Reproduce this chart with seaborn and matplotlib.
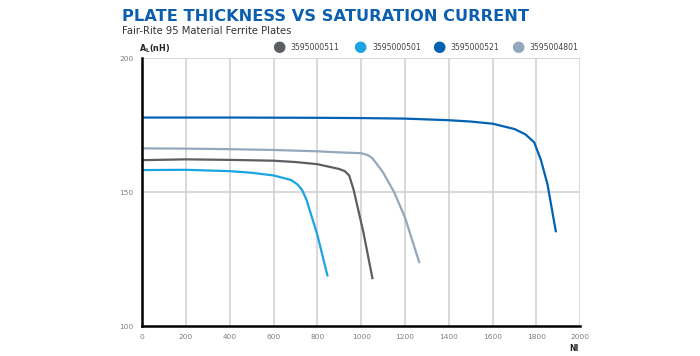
import numpy as np
import pandas as pd
import matplotlib
matplotlib.use("Agg")
import matplotlib.pyplot as plt
import seaborn as sns

series_names = ["3595000511", "3595000501", "3595000521", "3595004801"]
series_colors = ["#5b5e62", "#1ba3e3", "#0062b1", "#93a8bd"]

ni_511 = [0, 200, 400, 600, 700, 800, 900, 925, 945, 965, 1010, 1052]
al_511 = [161.9, 162.2, 162.0, 161.7, 161.2, 160.4, 158.6, 157.8, 156.2, 151.0, 135.0, 117.5]

ni_501 = [0, 200, 400, 500, 600, 680, 710, 730, 750, 800, 847]
al_501 = [158.2, 158.3, 157.8, 157.2, 156.2, 154.5, 152.8, 150.8, 147.2, 134.0, 118.5]

ni_521 = [0, 400, 800, 1000, 1200, 1400, 1500, 1600, 1700, 1750, 1790, 1820, 1850, 1889]
al_521 = [177.8, 177.8, 177.7, 177.6, 177.4, 176.8, 176.3, 175.5, 173.5, 171.5, 168.5, 162.0, 153.0, 135.0]

ni_4801 = [0, 200, 400, 600, 800, 900, 1000, 1030, 1050, 1070, 1100, 1150, 1200, 1266]
al_4801 = [166.3, 166.2, 166.0, 165.7, 165.2, 164.8, 164.5, 163.8, 162.7, 160.6, 157.3, 150.0, 140.5, 123.5]

x_ticks = [0, 200, 400, 600, 800, 1000, 1200, 1400, 1600, 1800, 2000]
y_ticks = [100, 150, 200]

title_text = "PLATE THICKNESS VS SATURATION CURRENT"
subtitle_text = "Fair-Rite 95 Material Ferrite Plates"

frames = []
for name, xs, ys in zip(series_names,
                        [ni_511, ni_501, ni_521, ni_4801],
                        [al_511, al_501, al_521, al_4801]):
    frames.append(pd.DataFrame({"NI": xs, "AL": ys, "part": name}))
df = pd.concat(frames, ignore_index=True)

sns.set_theme(style="white")
plt.rcParams["font.family"] = ["DejaVu Sans"]

fig = plt.figure(figsize=(7.0, 3.56), dpi=100)
ax = fig.add_axes([0.203, 0.084, 0.626, 0.753])

sns.lineplot(data=df, x="NI", y="AL", hue="part", hue_order=series_names,
             palette=series_colors, sort=False, estimator=None, linewidth=1.6,
             legend=False, ax=ax)
for ln in ax.get_lines():
    ln.set_solid_joinstyle("round")
    ln.set_solid_capstyle("butt")

ax.set_xlim(0, 2000)
ax.set_ylim(100, 200)
ax.set_xticks(x_ticks)
ax.set_yticks(y_ticks)
ax.set_xticklabels([str(t) for t in x_ticks])
ax.set_yticklabels([str(t) for t in y_ticks])
ax.set_xlabel("")
ax.set_ylabel("")

for t in x_ticks[1:]:
    ax.axvline(t, color="#d0d0d0", lw=1.1, zorder=0)
ax.axhline(150, color="#d0d0d0", lw=1.1, zorder=0)
ax.axhline(200, color="#d0d0d0", lw=1.3, zorder=0)

for s in ["top", "right"]:
    ax.spines[s].set_visible(False)
ax.spines["left"].set_color("black")
ax.spines["left"].set_linewidth(1.8)
ax.spines["bottom"].set_color("black")
ax.spines["bottom"].set_linewidth(1.8)
ax.tick_params(axis="both", which="both", colors="black", labelcolor="#808080",
               labelsize=5.4, length=3, width=1.4, direction="out")
ax.tick_params(axis="y", length=4, pad=2)
ax.tick_params(axis="x", pad=3)

fig.text(0.1747, 0.9419, title_text, fontsize=11.7, fontweight="bold",
         color="#0b5fae", va="baseline", ha="left")
fig.text(0.1747, 0.9037, subtitle_text, fontsize=7.2, color="#333333",
         va="baseline", ha="left")

fig.text(0.199, 0.855, r"$\mathbf{A}_{\mathbf{L}}$(nH)", fontsize=5.8,
         fontweight="bold", color="#222222", va="baseline", ha="left")
fig.text(0.827, 0.014, "NI", fontsize=5.5, fontweight="bold",
         color="#222222", va="baseline", ha="right")

leg_x = [0.3976, 0.5143, 0.6261, 0.7390]
for lx, name, col in zip(leg_x, series_names, series_colors):
    fig.text(lx, 0.868, "\u25CF", fontsize=11, color=col, va="center", ha="center")
    fig.text(lx + 0.0179, 0.8596, name, fontsize=5.6, color="#444444",
             va="baseline", ha="left")

fig.savefig("out.png", dpi=100)
